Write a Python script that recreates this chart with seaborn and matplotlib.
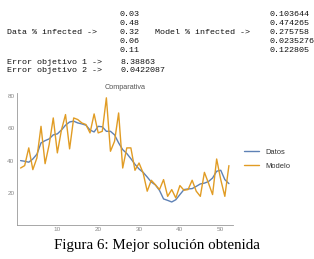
import numpy as np
import pandas as pd
import matplotlib
matplotlib.use('Agg')
import matplotlib.pyplot as plt
from matplotlib.ticker import MultipleLocator
import seaborn as sns

semanas = list(range(1, 53))
datos = [40, 39.6, 39, 41, 44, 51, 52.4, 53.5, 56, 56.6,
         59, 62, 64, 64.5, 63.4, 62.8, 62, 59, 57.8, 61.3,
         61, 58.2, 58.2, 56, 51, 46.8, 44.4, 41.2, 37.7, 34.8,
         32.7, 29.8, 26.7, 24.9, 21.5, 16.2, 15.3, 14.3, 15.7, 18.9,
         22, 22.4, 22.6, 24, 25.5, 26, 27, 29.2, 33.4, 34,
         28.2, 25.7]
modelo = [35.4, 36.9, 47.9, 34.4, 41.7, 61.3, 38.1, 50, 66.5, 44.8,
          59, 68.6, 47.3, 66.5, 65.5, 63.4, 62.4, 57.2, 69, 57.2,
          58.2, 79, 45.8, 52, 69.6, 35.4, 47.9, 47.9, 34, 38.5,
          32.3, 21, 27.8, 25, 22, 28.2, 17.8, 22, 16.8, 24.5,
          21.6, 22, 27.8, 21, 17.8, 32.7, 26, 18.9, 41, 28.2,
          17.8, 36.9]

data_pct = ['0.03', '0.48', '0.32', '0.06', '0.11']
model_pct = ['0.103644', '0.474265', '0.275758', '0.0235276', '0.122805']
errores = [('Error objetivo 1 ->', '8.38863'), ('Error objetivo 2 ->', '0.0422087')]

df = pd.DataFrame({'x': semanas * 2,
                   'y': datos + modelo,
                   'serie': ['Datos'] * len(datos) + ['Modelo'] * len(modelo)})

sns.set_style('white')
plt.rcParams['font.family'] = ['Liberation Sans', 'DejaVu Sans']

W, H = 314, 259
fig = plt.figure(figsize=(W / 100, H / 100), dpi=100)

def fx(px):
    return px / W

def fy(py):
    return 1 - py / H

# texto de la consola
mono = dict(family='Liberation Mono', fontsize=6, color='#111111', va='center')
for i, v in enumerate(data_pct):
    fig.text(fx(119), fy(15 + 8.8 * i), v, **mono)
for i, v in enumerate(model_pct):
    fig.text(fx(270), fy(15 + 8.8 * i), v, **mono)
fig.text(fx(7), fy(33), 'Data % infected ->', **mono)
fig.text(fx(155), fy(33), 'Model % infected ->', **mono)
for i, (lab, val) in enumerate(errores):
    fig.text(fx(7), fy(62 + 9 * i), lab, **mono)
    fig.text(fx(120), fy(62 + 9 * i), val, **mono)

ax = fig.add_axes([fx(16.5), fy(225), fx(233) - fx(16.5), fy(93) - fy(225)])
sns.lineplot(data=df, x='x', y='y', hue='serie', palette=['#5e81b5', '#e19c24'],
             linewidth=1.0, ax=ax)
ax.set_xlim(0, 53)
ax.set_ylim(0, 82)
ax.set_xlabel('')
ax.set_ylabel('')
ax.set_title('Comparativa', fontsize=5.2, color='#555555', pad=3)

for s in ['top', 'right']:
    ax.spines[s].set_visible(False)
for s in ['left', 'bottom']:
    ax.spines[s].set_color('#999999')
    ax.spines[s].set_linewidth(0.6)
ax.xaxis.set_major_locator(MultipleLocator(10))
ax.xaxis.set_minor_locator(MultipleLocator(2))
ax.yaxis.set_major_locator(MultipleLocator(20))
ax.yaxis.set_minor_locator(MultipleLocator(5))
ax.set_xticks([10, 20, 30, 40, 50])
ax.set_yticks([20, 40, 60, 80])
ax.tick_params(which='both', direction='in', colors='#999999', labelcolor='#888888',
               labelsize=4.6, width=0.5, pad=1.5)
ax.tick_params(which='major', length=3)
ax.tick_params(which='minor', length=1.5)

leg = ax.legend(loc='center left', bbox_to_anchor=(1.02, 0.5), frameon=False,
                fontsize=5.4, handlelength=2.0, labelspacing=0.9, handletextpad=0.8)
for t in leg.get_texts():
    t.set_color('#333333')

fig.text(0.5, fy(246), 'Figura 6: Mejor solución obtenida', ha='center', va='center',
         family='Liberation Serif', fontsize=10.8, color='black')

fig.savefig('out.png', dpi=100)
